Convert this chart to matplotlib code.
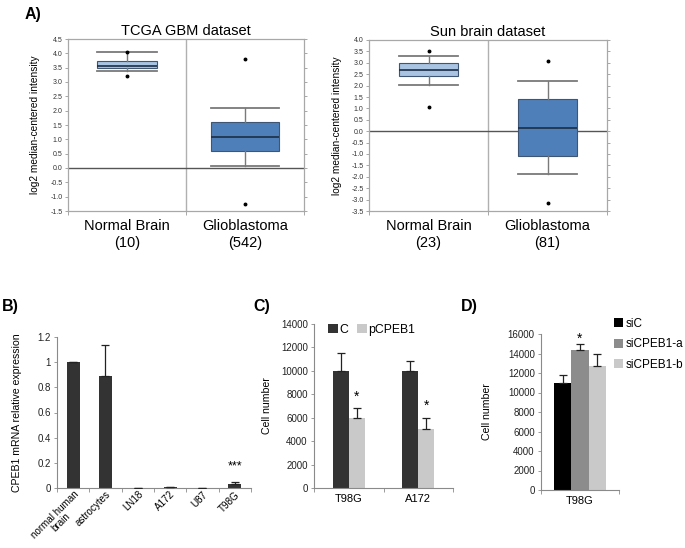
"""Four-panel figure: CPEB1 expression boxplots (A) and bar charts (B-D)."""

import matplotlib

matplotlib.use("Agg")
import matplotlib.pyplot as plt
import numpy as np

plt.rcParams["font.family"] = ["Liberation Sans", "DejaVu Sans"]
plt.rcParams["axes.unicode_minus"] = False

# ---- Panel A: box statistics ----
tcga_labels = ["Normal Brain\n(10)", "Glioblastoma\n(542)"]
tcga_q1 = [3.50, 0.60]
tcga_med = [3.55, 1.07]
tcga_q3 = [3.72, 1.60]
tcga_lo = [3.38, 0.07]
tcga_hi = [4.05, 2.10]
tcga_fliers = [[4.05, 3.20], [3.80, -1.25]]

sun_labels = ["Normal Brain\n(23)", "Glioblastoma\n(81)"]
sun_q1 = [2.43, -1.10]
sun_med = [2.70, 0.15]
sun_q3 = [3.00, 1.40]
sun_lo = [2.03, -1.87]
sun_hi = [3.32, 2.22]
sun_fliers = [[3.50, 1.05], [3.10, -3.15]]

# ---- Panel B ----
b_labels = ["normal human\nbrain", "astrocytes", "LN18", "A172", "U87", "T98G"]
b_values = [1.0, 0.89, 0.003, 0.004, 0.003, 0.032]
b_errors = [0.003, 0.25, 0.0, 0.0, 0.0, 0.018]

# ---- Panel C ----
c_groups = ["T98G", "A172"]
c_series = ["C", "pCPEB1"]
c_values = [[10000, 10000], [6000, 5000]]
c_errors = [[1500, 800], [800, 1000]]

# ---- Panel D ----
d_groups = ["T98G"]
d_series = ["siC", "siCPEB1-a", "siCPEB1-b"]
d_values = [11000, 14400, 12700]
d_errors = [800, 600, 1300]

W, H = 685, 548
GRID = "#999999"
AXIS = "#8a8a8a"


def px_axes(fig, left, top, right, bottom):
    return fig.add_axes([left / W, 1 - bottom / H, (right - left) / W, (bottom - top) / H])


def box_panel(ax, title, labels, q1, med, q3, lo, hi, fliers, ylim, step, widths, colors):
    stats = []
    for i in range(len(labels)):
        stats.append({"q1": q1[i], "med": med[i], "q3": q3[i],
                      "whislo": lo[i], "whishi": hi[i], "fliers": fliers[i]})
    bp = ax.bxp(stats, positions=[0.5, 1.5], widths=widths, patch_artist=True,
                capwidths=widths, manage_ticks=False,
                whiskerprops={"color": "#7a7a7a", "lw": 1.0},
                capprops={"color": "#7a7a7a", "lw": 1.3},
                medianprops={"color": "#1c2e45", "lw": 1.2},
                flierprops={"marker": "o", "markersize": 1.8, "markerfacecolor": "black",
                            "markeredgecolor": "black"},
                zorder=3)
    for patch, col in zip(bp["boxes"], colors):
        patch.set_facecolor(col)
        patch.set_edgecolor("#3e5673")
        patch.set_linewidth(0.8)
    ax.axhline(0, color="#555555", lw=1.0, zorder=2)
    ax.axvline(1, color="#b0b0b0", lw=1.0, zorder=1)
    ax.set_xlim(0, 2)
    ax.set_ylim(*ylim)
    ax.set_yticks(np.arange(ylim[0], ylim[1] + 0.01, step))
    ax.yaxis.set_major_formatter(matplotlib.ticker.FormatStrFormatter("%.1f"))
    ax.tick_params(axis="y", left=True, right=True, direction="out", length=2.5,
                   width=0.6, color=GRID, labelsize=5, pad=1.5, labelcolor="#333333")
    ax.set_xticks([0.5, 1.5])
    ax.set_xticklabels(labels, fontsize=10.5, linespacing=1.2)
    ax.tick_params(axis="x", length=0, pad=6)
    ax.set_xticks([0, 1, 2], minor=True)
    ax.tick_params(axis="x", which="minor", length=3, color=GRID, direction="out")
    for s in ax.spines.values():
        s.set_color("#a8a8a8")
        s.set_linewidth(0.9)
    ax.set_title(title, fontsize=10.5, pad=3)
    ax.set_ylabel("log2 median-centered intensity", fontsize=7.3)


def bar_axes_style(ax):
    for name in ["top", "right"]:
        ax.spines[name].set_visible(False)
    for name in ["left", "bottom"]:
        ax.spines[name].set_color(AXIS)
        ax.spines[name].set_linewidth(0.8)
    ax.tick_params(axis="y", direction="out", length=2.5, width=0.6, color=AXIS,
                   labelsize=7, pad=2, labelcolor="#222222")
    ax.tick_params(axis="x", which="major", direction="out", length=3, width=0.6,
                   color=AXIS, labelbottom=False)
    ax.tick_params(axis="x", which="minor", length=0, labelsize=8, pad=4)


fig = plt.figure(figsize=(W / 100, H / 100), dpi=100)

# ---- A ----
ax_a1 = px_axes(fig, 68, 39, 304, 211)
box_panel(ax_a1, "TCGA GBM dataset", tcga_labels, tcga_q1, tcga_med, tcga_q3,
          tcga_lo, tcga_hi, tcga_fliers, (-1.5, 4.5), 0.5, [0.51, 0.58],
          ["#a9c3e3", "#4f7fb8"])
ax_a1.yaxis.set_label_coords(-0.118, 0.5)

ax_a2 = px_axes(fig, 369, 40, 607, 211)
box_panel(ax_a2, "Sun brain dataset", sun_labels, sun_q1, sun_med, sun_q3,
          sun_lo, sun_hi, sun_fliers, (-3.5, 4.0), 0.5, [0.5, 0.5],
          ["#a9c3e3", "#4f7fb8"])
ax_a2.yaxis.set_label_coords(-0.113, 0.5)

# ---- B ----
ax_b = px_axes(fig, 57, 337, 251, 488)
xb = np.arange(len(b_labels))
ax_b.bar(xb, b_values, width=0.41, color="#333333", zorder=2)
ax_b.errorbar(xb, b_values, yerr=[np.zeros(len(b_errors)), b_errors], fmt="none",
              ecolor="#222222", elinewidth=0.9, capsize=3, capthick=0.9, zorder=3)
ax_b.text(xb[-1], b_values[-1] + b_errors[-1] + 0.12, "***", ha="center", va="center",
          fontsize=9)
ax_b.set_xlim(-0.5, len(b_labels) - 0.5)
ax_b.set_ylim(0, 1.2)
ax_b.set_yticks(np.arange(0, 1.21, 0.2))
ax_b.set_yticklabels(["0", "0.2", "0.4", "0.6", "0.8", "1", "1.2"])
ax_b.set_xticks(np.arange(-0.5, len(b_labels)))
ax_b.set_xticks(xb, minor=True)
ax_b.set_xticklabels(b_labels, minor=True, rotation=45, ha="right",
                     rotation_mode="anchor", linespacing=0.95, multialignment="center")
bar_axes_style(ax_b)
ax_b.tick_params(axis="x", which="minor", labelsize=7.1, pad=1)
ax_b.set_ylabel("CPEB1 mRNA relative expression", fontsize=7.6)
ax_b.yaxis.set_label_coords(-0.178, 0.5)

# ---- C ----
ax_c = px_axes(fig, 314, 324, 453, 488)
xc = np.arange(len(c_groups)) + 0.5
c_colors = ["#333333", "#c9c9c9"]
c_offsets = [-0.115, 0.115]
handles = []
for values, errs, col, off, name in zip(c_values, c_errors, c_colors, c_offsets, c_series):
    h = ax_c.bar(xc + off, values, width=0.23, color=col, label=name, zorder=2)
    handles.append(h)
    ax_c.errorbar(xc + off, values, yerr=[np.zeros(len(errs)), errs], fmt="none",
                  ecolor="#222222", elinewidth=0.9, capsize=3, capthick=0.9, zorder=3)
for i in range(len(c_groups)):
    top = c_values[1][i] + c_errors[1][i]
    ax_c.text(xc[i] + c_offsets[1], top + 1000, "*", ha="center", va="center", fontsize=10)
ax_c.set_xlim(0, len(c_groups))
ax_c.set_ylim(0, 14000)
ax_c.set_yticks(np.arange(0, 14001, 2000))
ax_c.set_xticks(np.arange(len(c_groups) + 1))
ax_c.set_xticks(xc, minor=True)
ax_c.set_xticklabels(c_groups, minor=True)
bar_axes_style(ax_c)
ax_c.set_ylabel("Cell number", fontsize=7.6)
ax_c.yaxis.set_label_coords(-0.30, 0.5)
ax_c.legend(handles=handles, ncol=2, loc="center left", frameon=False,
            bbox_to_anchor=(328 / W, 1 - 330 / H), bbox_transform=fig.transFigure,
            handlelength=0.8, handleheight=0.8, handletextpad=0.15, columnspacing=0.7,
            borderpad=0, borderaxespad=0, fontsize=8.8)

# ---- D ----
ax_d = px_axes(fig, 541, 334, 619, 490)
d_colors = ["#000000", "#8c8c8c", "#c9c9c9"]
d_offsets = [-0.22, 0.0, 0.22]
handles = []
for val, err, col, off, name in zip(d_values, d_errors, d_colors, d_offsets, d_series):
    h = ax_d.bar(0.5 + off, val, width=0.22, color=col, label=name, zorder=2)
    handles.append(h)
    ax_d.errorbar(0.5 + off, val, yerr=[[0], [err]], fmt="none", ecolor="#222222",
                  elinewidth=0.9, capsize=3, capthick=0.9, zorder=3)
ax_d.text(0.5 + d_offsets[1], d_values[1] + d_errors[1] + 500, "*", ha="center",
          va="center", fontsize=10)
ax_d.set_xlim(0, 1)
ax_d.set_ylim(0, 16000)
ax_d.set_yticks(np.arange(0, 16001, 2000))
ax_d.set_xticks([0, 1])
ax_d.set_xticks([0.5], minor=True)
ax_d.set_xticklabels(d_groups, minor=True)
bar_axes_style(ax_d)
ax_d.set_ylabel("Cell number", fontsize=7.6)
ax_d.yaxis.set_label_coords(-0.63, 0.5)
ax_d.legend(handles=handles, loc="upper left", frameon=False,
            bbox_to_anchor=(614 / W, 1 - 318 / H), bbox_transform=fig.transFigure,
            handlelength=0.8, handleheight=0.8, handletextpad=0.15, labelspacing=0.7,
            borderpad=0, borderaxespad=0, fontsize=8.5)

# ---- panel letters ----
for letter, x, y in [("A)", 25, 14), ("B)", 2, 306), ("C)", 253, 306), ("D)", 461, 306)]:
    fig.text(x / W, 1 - y / H, letter, fontsize=11.5, fontweight="bold", va="center")

fig.savefig("out.png", dpi=100, facecolor="white")
